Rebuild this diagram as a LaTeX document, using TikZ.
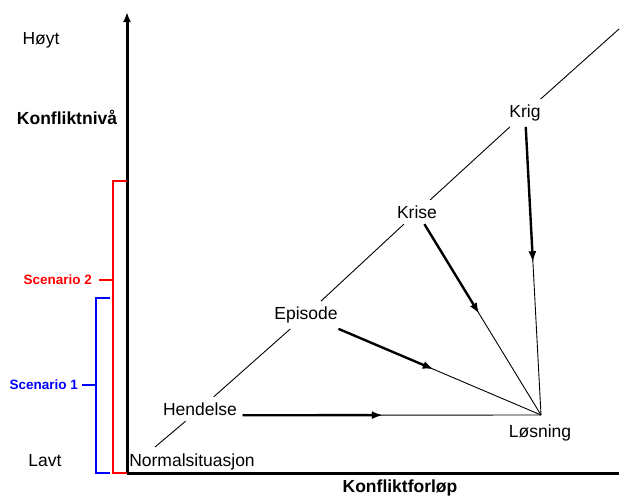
\documentclass[tikz,border=0pt]{standalone}
\usepackage{fontspec}
\setmainfont{Liberation Sans}
\usepackage{tikz}
\usetikzlibrary{arrows.meta}
\definecolor{scenred}{RGB}{255, 0, 0}
\definecolor{scenblue}{RGB}{0, 0, 255}

\begin{document}
\begin{tikzpicture}[x=1pt, y=-1pt, font=\fontsize{17.5}{21}\selectfont,
  axis/.style={line width=3pt},
  diag/.style={line width=0.9pt},
  toward/.style={line width=0.9pt},
  move/.style={line width=2.4pt, -{Latex[length=11pt, width=8pt]}},
  bracket/.style={line width=2pt},
  scenlbl/.style={font=\fontsize{13.5}{16}\selectfont\bfseries, anchor=east, inner ysep=2pt},
  stage/.style={inner sep=5.5pt}]
\useasboundingbox (0,0) rectangle (620,498);

% Axes
\coordinate (origo) at (127,473);
\coordinate (ytop) at (127,12);
\coordinate (xend) at (619,473);
\draw[axis, -{Latex[length=10pt, width=8pt]}] (origo) -- (ytop);
\draw[axis] (origo) -- (xend);

% Axis texts
\node (hoyt) at (41,40) {Høyt};
\node[font=\fontsize{17.5}{21}\selectfont\bfseries] (niva) at (67,117) {Konfliktnivå};
\node (lavt) at (45,461) {Lavt};
\node[font=\fontsize{17.5}{21}\selectfont\bfseries] (forlop) at (400,488) {Konfliktforløp};

% Scenario brackets
\draw[bracket, scenred] (127,181) -- (113,181) -- (113,473) -- (127,473);
\draw[bracket, scenblue] (110,298) -- (96,298) -- (96,473) -- (110,473);
\node[scenlbl, scenred, inner xsep=7pt] (scen2) at (99,280) {Scenario 2};
\node[scenlbl, scenblue, inner xsep=4pt] (scen1) at (82,385) {Scenario 1};
\draw[bracket, scenred] (scen2.east) -- (113,280);
\draw[bracket, scenblue] (scen1.east) -- (96,385);

% Escalation stages
\node[inner sep=1pt] (normal) at (192,462) {Normalsituasjon};
\node[stage] (hendelse) at (200,409) {Hendelse};
\node[stage] (episode) at (306,315) {Episode};
\node[stage] (krise) at (417,212) {Krise};
\node[stage] (krig) at (525,113) {Krig};
\coordinate (dstart) at (155,447);
\coordinate (dend) at (619,29);

\draw[diag] (dstart) -- (hendelse);
\draw[diag] (hendelse) -- (episode);
\draw[diag] (episode) -- (krise);
\draw[diag] (krise) -- (krig);
\draw[diag] (krig) -- (dend);

% Paths to the solution
\coordinate (losning) at (541,415);
\node (losninglbl) at (540,433) {Løsning};

\draw[toward] (hendelse.base east) -- coordinate[pos=0.47] (hmid) (losning);
\draw[toward] (episode) -- coordinate[pos=0.47] (emid) (losning);
\draw[toward] (krise) -- coordinate[pos=0.47] (kmid) (losning);
\draw[toward] (krig) -- coordinate[pos=0.47] (gmid) (losning);
\draw[move] (hendelse.base east) -- (hmid);
\draw[move] (episode) -- (emid);
\draw[move] (krise) -- (kmid);
\draw[move] (krig) -- (gmid);
\end{tikzpicture}
\end{document}
